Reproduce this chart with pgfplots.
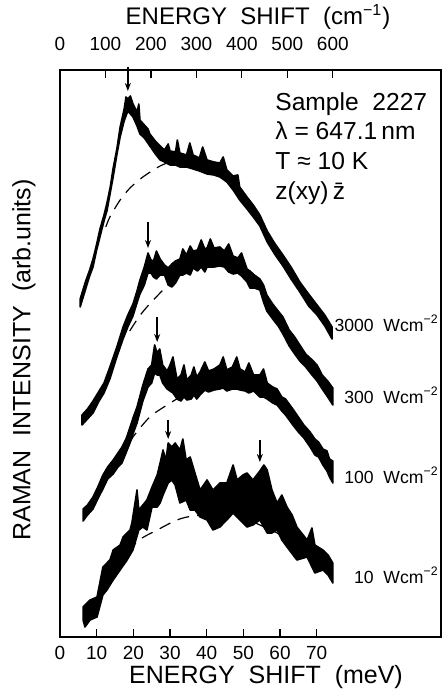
\documentclass[border=0pt]{standalone}
\usepackage{fontspec}
\setmainfont{Liberation Sans}
\usepackage{pgfplots}
\pgfplotsset{compat=1.18}
\usetikzlibrary{arrows.meta}

% 3000 W/cm^2: upper edge of the noisy band, then lower edge back
\pgfplotstableread{
x y
5.5 338
7.0 356
8.0 366
9.0 378
10.0 393
10.9 408
12.0 422
12.8 434
13.7 450
14.5 469
15.5 488
16.4 510
17.5 528
18.0 540
18.5 538
19.2 541
19.9 533
21.0 525
21.5 533
21.8 517
23.0 512
24.0 508
24.5 503
26.0 496
27.3 491
28.5 487
29.5 493
30.0 486
31.5 485
32.0 497
32.7 484
34.5 482
35.4 494
36.3 482
38.0 479
38.9 490
40.1 477
42.0 475
43.6 474
44.5 480
45.5 467
47.2 461
48.5 462
49.0 450
51.0 440
52.7 432
54.5 422
56.5 406
58.5 394
60.8 382
63.0 370
65.4 355
67.8 343
70.1 332
72.2 322
74.2 310
74.2 298
72.2 311
70.1 322
67.8 331
65.4 345
63.0 358
60.8 371
58.5 383
56.5 395
54.5 411
52.7 420
51.0 428
49.0 437
47.2 447
45.5 455
43.6 460
42.0 462
40.1 463
38.0 466
36.3 468
34.5 470
32.7 470
31.5 472
30.0 472
28.5 475
27.3 477
26.0 483
24.5 491
23.0 499
21.8 503
21.0 511
19.9 520
18.5 526
17.5 516
16.4 500
15.5 482
14.5 460
13.7 444
12.8 426
12.0 416
10.9 400
10.0 387
9.0 370
8.0 360
7.0 348
5.5 330
}\curveA
% 300 W/cm^2
\pgfplotstableread{
x y
6.0 222
7.5 228
9.0 236
10.5 245
12.0 254
13.6 270
15.5 290
17.2 310
18.5 322
19.9 333
21.0 346
21.8 357
23.0 370
24.0 384
24.8 377
25.5 376
26.3 386
27.3 378
28.5 372
29.5 369
30.5 373
31.5 376
32.7 378
33.5 388
34.5 382
35.5 391
36.3 386
37.5 387
38.5 397
39.5 388
40.1 389
41.0 398
42.0 389
43.6 390
44.8 386
46.0 393
47.2 381
48.5 379
49.5 384
51.0 368
51.8 366
53.0 362
54.5 358
55.5 352
56.4 342
58.0 333
59.5 326
60.8 320
62.5 307
64.0 300
65.4 292
67.0 283
68.5 278
70.1 272
71.5 262
73.0 256
74.4 249
74.4 232
73.0 240
71.5 248
70.1 256
68.5 263
67.0 270
65.4 276
64.0 283
62.5 291
60.8 303
59.5 311
58.0 318
56.4 326
55.5 335
54.5 347
53.0 349
51.8 349
51.0 355
49.5 361
48.5 364
47.2 363
46.0 365
44.8 370
43.6 371
42.0 370
40.1 370
39.5 365
38.5 370
37.5 366
36.3 369
35.5 362
34.5 364
33.5 362
32.7 362
31.5 354
30.5 350
29.5 352
28.5 362
27.3 362
26.3 358
25.5 360
24.8 364
24.0 364
23.0 352
21.8 343
21.0 334
19.9 321
18.5 310
17.2 298
15.5 280
13.6 258
12.0 244
10.5 235
9.0 224
7.5 218
6.0 212
}\curveB
% 100 W/cm^2
\pgfplotstableread{
x y
6.3 128
7.5 132
9.0 140
10.3 150
11.7 162
13.0 170
14.5 177
15.8 184
16.9 190
18.0 198
19.1 210
20.0 220
21.0 230
22.6 252
24.0 268
25.0 272
25.8 292
26.5 284
27.2 288
28.0 272
29.2 266
30.0 272
30.8 280
31.9 258
33.0 262
33.8 272
34.6 257
35.8 262
36.5 270
37.3 260
38.2 265
39.5 275
40.5 266
42.0 268
43.6 272
44.5 280
45.5 267
47.0 270
48.2 280
49.1 268
50.5 265
51.5 274
52.8 262
54.5 262
55.5 268
56.5 254
58.0 250
59.2 248
60.5 240
61.5 238
63.5 228
65.0 220
66.5 212
68.2 205
69.5 198
70.5 195
71.7 188
72.8 186
73.5 178
74.4 176
74.4 154
73.5 160
72.8 166
71.7 172
70.5 180
69.5 182
68.2 190
66.5 199
65.0 205
63.5 212
61.5 222
60.5 226
59.2 232
58.0 234
56.5 238
55.5 240
54.5 240
52.8 246
51.5 244
50.5 246
49.1 247
48.2 248
47.0 248
45.5 246
44.5 249
43.6 248
42.0 247
40.5 245
39.5 247
38.2 242
37.3 238
36.5 242
35.8 238
34.6 237
33.8 240
33.0 236
31.9 238
30.8 244
30.0 246
29.2 248
28.0 254
27.2 262
26.5 262
25.8 264
25.0 254
24.0 250
22.6 236
21.0 214
20.0 204
19.1 194
18.0 184
16.9 174
15.8 170
14.5 163
13.0 158
11.7 148
10.3 138
9.0 128
7.5 122
6.3 116
}\curveC
% 10 W/cm^2
\pgfplotstableread{
x y
6.3 30
8.2 37
10.1 40
11.7 70
13.6 77
14.5 87
16.4 92
17.2 100
19.1 107
19.6 114
21.0 147
21.5 127
23.7 137
25.1 150
26.5 162
27.3 174
28.1 187
28.9 177
29.5 194
30.5 190
31.4 194
32.7 187
33.5 198
34.4 177
35.5 180
36.8 164
38.2 147
40.1 157
41.7 147
43.6 154
45.5 154
47.2 172
48.3 157
49.9 162
51.0 164
52.6 157
54.5 166
55.6 172
56.5 167
57.8 147
59.2 134
60.5 142
61.9 130
63.3 122
64.6 110
66.3 102
67.4 97
68.7 109
69.5 92
71.7 87
73.1 82
74.4 74
74.4 54
73.1 62
71.7 67
69.5 64
67.4 80
64.6 77
61.9 90
60.5 97
59.2 107
57.8 104
56.5 104
54.5 117
52.6 112
51.0 110
49.1 117
47.2 124
45.5 117
43.6 110
41.7 107
40.1 117
38.2 120
36.8 127
35.5 127
34.4 137
32.7 134
31.4 152
30.5 157
29.5 154
28.1 142
27.3 134
26.5 130
25.1 130
23.7 107
22.6 110
21.5 107
19.9 87
18.3 77
16.4 67
14.5 57
12.8 47
11.7 42
10.1 20
8.2 17
6.8 10
6.3 17
}\curveD

\begin{document}
\begin{tikzpicture}
\useasboundingbox (0,0) rectangle (221.5pt,344.5pt);
\begin{axis}[
  at={(30pt,26pt)}, anchor=south west,
  scale only axis, width=190.5pt, height=283.5pt,
  xmin=0, xmax=103.9, ymin=0, ymax=567,
  xtick={0,10,...,70}, ytick=\empty,
  xtick pos=bottom, tick align=inside,
  major tick length=4pt,
  every tick/.style={line width=0.6pt, black},
  axis line style={line width=0.7pt},
  /pgf/number format/assume math mode=true,
  xticklabel style={font=\fontsize{9.5}{10}\selectfont, yshift=-1pt},
  clip=false,
  band/.style={black, fill=black, line width=0.8pt, line join=round},
]
\addplot[black, dashed, dash pattern=on 6pt off 4pt, line width=0.6pt, smooth] coordinates {(12.5,410) (13.6,420) (16.4,437) (19.1,449) (22.6,460) (27.3,471) (31.4,477)};
\addplot[black, dashed, dash pattern=on 6pt off 4pt, line width=0.6pt, smooth] coordinates {(19.0,306) (21.5,320) (23.7,330) (26.5,341) (29.5,352) (31.5,357)};
\addplot[black, dashed, dash pattern=on 6pt off 4pt, line width=0.6pt, smooth] coordinates {(19.0,194) (19.9,200) (22.5,212) (25.1,222) (29.2,232) (32.7,240) (35,245)};
\addplot[black, dashed, dash pattern=on 6pt off 4pt, line width=0.6pt, smooth] coordinates {(18.5,85) (19.6,90) (22.4,99) (26.5,107) (31.9,117) (36.3,121) (43,122) (49.9,119) (54.5,112) (59.2,104) (61.9,97)};
\addplot[band] table {\curveA} -- cycle;
\addplot[band] table {\curveB} -- cycle;
\addplot[band] table {\curveC} -- cycle;
\addplot[band] table {\curveD} -- cycle;
\draw[-{Stealth[length=4pt,width=3pt]}, line width=0.7pt] (axis cs:18.5,570) -- (axis cs:18.5,546);
\draw[-{Stealth[length=4pt,width=3pt]}, line width=0.7pt] (axis cs:24.0,415) -- (axis cs:24.0,389);
\draw[-{Stealth[length=4pt,width=3pt]}, line width=0.7pt] (axis cs:26.5,320) -- (axis cs:26.5,295);
\draw[-{Stealth[length=4pt,width=3pt]}, line width=0.7pt] (axis cs:29.5,217) -- (axis cs:29.5,198);
\draw[-{Stealth[length=4pt,width=3pt]}, line width=0.7pt] (axis cs:54.5,197) -- (axis cs:54.5,175);
\end{axis}
\begin{axis}[
  at={(30pt,26pt)}, anchor=south west,
  scale only axis, width=190.5pt, height=283.5pt,
  xmin=0, xmax=838, ymin=0, ymax=1,
  axis x line*=top, axis y line=none,
  xtick={0,100,...,600}, tick align=inside,
  major tick length=4pt,
  every tick/.style={line width=0.6pt, black},
  axis line style={line width=0.7pt},
  /pgf/number format/assume math mode=true,
  xticklabel style={font=\fontsize{9.5}{10}\selectfont},
  xticklabel shift=6pt,
]
\end{axis}
\draw[line width=0.7pt] (220.5pt,26pt) -- (220.5pt,309.5pt);
\node[font=\fontsize{12}{13}\selectfont] at (129pt,336pt) {ENERGY\ \ SHIFT\ \ (cm\textsuperscript{−1})};
\node[font=\fontsize{12.5}{13}\selectfont] at (133pt,6pt) {ENERGY\ \ SHIFT\ \ (meV)};
\node[font=\fontsize{12.5}{13}\selectfont, rotate=90] at (12pt,164.5pt) {RAMAN\ \ INTENSITY\ \ (arb.units)};
\node[font=\fontsize{12.3}{14.8}\selectfont, anchor=north west, align=left, inner sep=0pt] at (137.5pt,298.5pt) {Sample\ \ 2227\\ λ = 647.1\,nm\\ T ≈ 10 K\\ z(xy)\,\=z};
\node[font=\fontsize{8.8}{10}\selectfont, anchor=east, inner sep=0pt] at (219.5pt,183pt) {3000\ \ Wcm\textsuperscript{−2}};
\node[font=\fontsize{8.8}{10}\selectfont, anchor=east, inner sep=0pt] at (219.5pt,147pt) {300\ \ Wcm\textsuperscript{−2}};
\node[font=\fontsize{8.8}{10}\selectfont, anchor=east, inner sep=0pt] at (219.5pt,107pt) {100\ \ Wcm\textsuperscript{−2}};
\node[font=\fontsize{8.8}{10}\selectfont, anchor=east, inner sep=0pt] at (219.5pt,57pt) {10\ \ Wcm\textsuperscript{−2}};
\end{tikzpicture}
\end{document}
